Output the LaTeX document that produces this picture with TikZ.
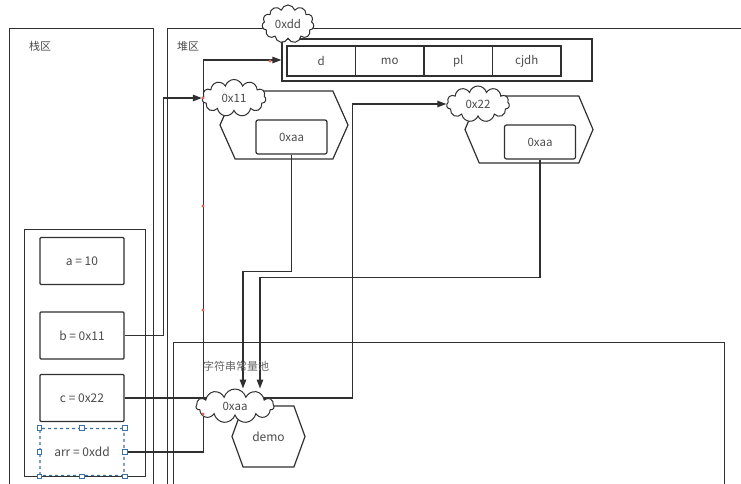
\documentclass[tikz,border=0pt]{standalone}
\usepackage{fontspec}
\setmainfont{Noto Sans CJK SC}
\usepackage{tikz}
\usetikzlibrary{arrows.meta,positioning,shapes.symbols,backgrounds}
\definecolor{Ink}{HTML}{303030}
\definecolor{Label}{HTML}{4A4A4A}
\definecolor{Select}{HTML}{3D6FA8}
\definecolor{Dot}{HTML}{E0645A}
\tikzset{
  area/.style={draw=Ink,line width=1pt},
  arealabel/.style={font=\fontsize{11}{12}\selectfont,text=Label,inner sep=0pt},
  varbox/.style={draw=Ink,line width=1.2pt,rounded corners=1pt,minimum width=84pt,
              minimum height=47pt,inner sep=0pt,font=\fontsize{12}{14}\selectfont,text=Label},
  cellbox/.style={draw=Ink,line width=1.2pt,minimum width=68.5pt,minimum height=30pt,
              inner sep=0pt,outer sep=0pt,font=\fontsize{11.5}{14}\selectfont,text=Label},
  refbox/.style={draw=Ink,line width=1.2pt,rounded corners=2pt,minimum width=71pt,
              minimum height=34pt,inner sep=0pt,font=\fontsize{11.5}{14}\selectfont,text=Label},
  addrcloud/.style={cloud,cloud puffs=11,aspect=1.7,draw=Ink,line width=1pt,fill=white,
              inner sep=0pt,font=\fontsize{11.5}{14}\selectfont,text=Label},
  objhex/.style={signal,signal to=west and east,draw=Ink,line width=1.2pt,inner sep=0pt,
              font=\fontsize{12}{14}\selectfont,text=Label},
  flow/.style={-{Triangle[length=9pt,width=6.5pt]},draw=Ink,line width=1.2pt},
  handle/.style={draw=Select,fill=white,minimum size=4.5pt,inner sep=0pt,line width=0.6pt},
  waydot/.style={circle,fill=Dot,minimum size=3.2pt,inner sep=0pt}
}
\begin{document}
\begin{tikzpicture}[x=1pt,y=-1pt]
  \clip (0,0) rectangle (741,483);
  % stack and heap areas
  \draw[area] (9,28) rectangle (153,500);
  \draw[area] (167,28) rectangle (760,500);
  \draw[area] (24,229) rectangle (145,476);
  \draw[area] (173,342) rectangle (724,500);
  \node[arealabel] (stacklbl) at (40,46) {栈区};
  \node[arealabel] (heaplbl) at (188,46) {堆区};
  \node[arealabel,text=Label!85] (poollbl) at (236,366) {字符串常量池};
  % stack variables
  \node[varbox] (a) at (82,261) {a = 10};
  \node[varbox] (b) at (82,335.5) {b = 0x11};
  \node[varbox] (c) at (82,398) {c = 0x22};
  \node[varbox,draw=Select,dashed] (arr) at (82,452) {arr = 0xdd};
  \foreach \p in {north west,north,north east,east,south east,south,south west,west}
    \node[handle] at (arr.\p) {};
  % array object
  \node[draw=Ink,line width=1.2pt,minimum width=310pt,minimum height=42pt,inner sep=0pt]
    (arrbox) at (437,60) {};
  \node[cellbox,anchor=west] (d) at (287,61) {d};
  \node[cellbox,right=0pt of d] (mo) {mo};
  \node[cellbox,right=0pt of mo] (pl) {pl};
  \node[cellbox,right=0pt of pl] (cjdh) {cjdh};
  \node[addrcloud,minimum width=52pt,minimum height=38pt] (cdd) at (288,24) {0xdd};
  % string objects
  \node[objhex,minimum width=128pt,minimum height=68pt,signal pointer angle=132]
    (obj1) at (284,125) {};
  \node[refbox] (in1) at (291.5,137) {0xaa};
  \node[addrcloud,minimum width=64pt,minimum height=37pt] (c11) at (234,98) {0x11};
  \node[objhex,minimum width=128pt,minimum height=67pt,signal pointer angle=134]
    (obj2) at (529,129.5) {};
  \node[refbox] (in2) at (540,142) {0xaa};
  \node[addrcloud,minimum width=63pt,minimum height=36pt] (c22) at (478,104) {0x22};
  % constant pool
  \node[objhex,minimum width=73pt,minimum height=61pt,signal pointer angle=140]
    (demo) at (268.5,436.5) {demo};
  \node[addrcloud,minimum width=78pt,minimum height=34pt] (caa) at (235,406) {0xaa};
  \begin{scope}[on background layer]
    \draw[flow] (b.east) -- ++(39,0) |- (c11.west);
    \draw[flow] (c.east) -- ++(228,0) |- (c22.west);
    \draw[flow] (arr.east) -- ++(79,0) |- (arrbox.west);
    \draw[flow] (in1.south) -- ++(0,117) -| ([xshift=8pt]caa.north);
    \draw[flow] (in2.south) -- ++(0,118) -| ([xshift=25pt]caa.north);
  \end{scope}
  \foreach \q in {(270,61),(203,98),(203,206),(203,310),(203,414)}
    \node[waydot] at \q {};
\end{tikzpicture}
\end{document}
